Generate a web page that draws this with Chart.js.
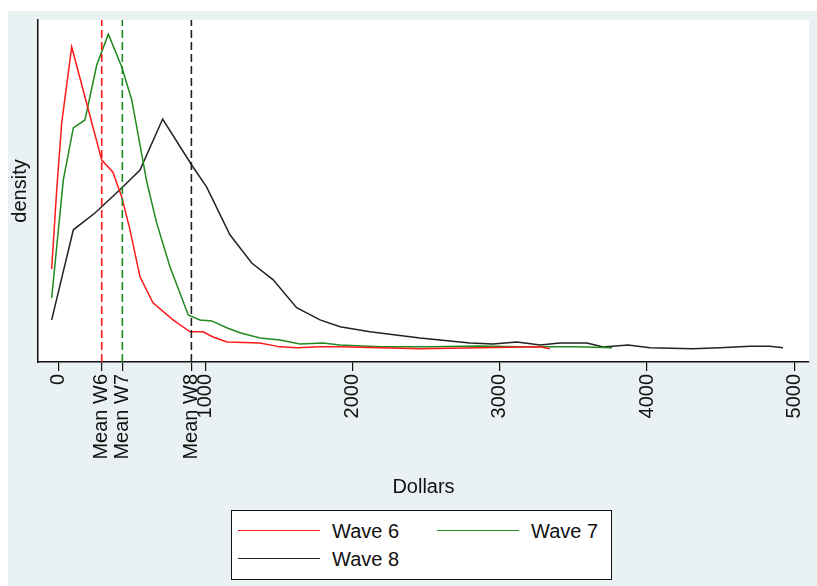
<!DOCTYPE html>
<html>
<head>
<meta charset="utf-8">
<script src="https://cdn.jsdelivr.net/npm/chart.js@4/dist/chart.umd.min.js"></script>
<style>
  body { margin: 0; background: #fff; }
  #wrap { position: relative; width: 817px; height: 586px; }
  #legend {
    position: absolute; left: 231px; top: 510px; width: 379px; height: 68px;
    border: 1.5px solid #111; background: #fff;
    font: 20px "Liberation Sans", Arial, sans-serif; color: #111;
  }
  .item { position: absolute; height: 24px; }
  .item span.line { position: absolute; left: 0; top: 11px; width: 82px; height: 0; border-top: 1.5px solid; }
  .item span.txt { position: absolute; left: 94px; top: 0; white-space: nowrap; line-height: 24px; }
</style>
</head>
<body>
<div id="wrap">
  <canvas id="chart" width="817" height="586"></canvas>
  <div id="legend"></div>
</div>
<script>
// kernel density curves (x = dollars, y = relative density)
const wave6X = [-45, -11, 23, 91, 295, 370, 431, 487, 555, 643, 779, 895, 983, 1051, 1146, 1370, 1506, 1622, 1778, 1914, 2185, 2457, 2865, 3273, 3340];
const wave6Y = [0.243, 0.483, 0.687, 0.918, 0.574, 0.538, 0.462, 0.362, 0.219, 0.140, 0.088, 0.052, 0.052, 0.036, 0.021, 0.018, 0.006, 0.003, 0.006, 0.006, 0.003, 0.000, 0.003, 0.006, 0.000];

const wave7X = [-45, 34, 102, 181, 261, 340, 431, 499, 601, 668, 759, 883, 962, 1042, 1144, 1234, 1370, 1506, 1642, 1798, 1914, 2185, 2525, 2865, 3137, 3524, 3762];
const wave7Y = [0.155, 0.514, 0.672, 0.696, 0.863, 0.957, 0.857, 0.757, 0.508, 0.383, 0.249, 0.103, 0.088, 0.085, 0.064, 0.049, 0.033, 0.027, 0.015, 0.018, 0.012, 0.006, 0.006, 0.009, 0.006, 0.006, 0.003];

const wave8X = [-45, 102, 249, 431, 555, 709, 906, 1008, 1166, 1314, 1460, 1619, 1778, 1914, 2117, 2457, 2797, 2953, 3116, 3273, 3409, 3592, 3701, 3870, 4020, 4312, 4495, 4699, 4835, 4923];
const wave8Y = [0.088, 0.362, 0.413, 0.489, 0.544, 0.699, 0.559, 0.492, 0.347, 0.261, 0.210, 0.125, 0.088, 0.067, 0.052, 0.033, 0.018, 0.015, 0.021, 0.012, 0.018, 0.018, 0.006, 0.012, 0.003, 0.000, 0.003, 0.008, 0.008, 0.003];

const seriesNames = ["Wave 6", "Wave 7", "Wave 8"];
const seriesColors = ["#ff1a1a", "#1f8a1f", "#222222"];

const meanValues = [295, 435, 904];
const meanLabels = ["Mean W6", "Mean W7", "Mean W8"];

const xTicks = [0, 1000, 2000, 3000, 4000, 5000];
const xMin = -138, xMax = 5100;
const yMin = -0.04, yMax = 1.0;

Chart.defaults.font.family = '"Liberation Sans", Arial, sans-serif';
Chart.defaults.font.size = 20;
Chart.defaults.color = "#111";

const toPoints = (xs, ys) => xs.map((x, i) => ({ x: x, y: ys[i] }));

const curveSets = [
  toPoints(wave6X, wave6Y),
  toPoints(wave7X, wave7Y),
  toPoints(wave8X, wave8Y)
].map((pts, i) => ({
  label: seriesNames[i],
  data: pts,
  borderColor: seriesColors[i],
  borderWidth: 1.5,
  pointRadius: 0,
  tension: 0,
  fill: false
}));

// dashed verticals at the means, spanning the whole y range
const meanSets = meanValues.map((m, i) => ({
  label: meanLabels[i],
  data: [{ x: m, y: yMin }, { x: m, y: yMax }],
  borderColor: seriesColors[i],
  borderWidth: 1.6,
  borderDash: [8, 4],
  pointRadius: 0,
  fill: false
}));

const bgPlugin = {
  id: "bg",
  beforeDraw(chart) {
    const { ctx, chartArea } = chart;
    ctx.save();
    ctx.fillStyle = "#fff";
    ctx.fillRect(0, 0, chart.width, chart.height);
    ctx.fillStyle = "#eaf1f3";
    ctx.fillRect(8, 11, chart.width - 8, chart.height - 11);
    ctx.fillStyle = "#fff";
    ctx.fillRect(chartArea.left, chartArea.top, chartArea.right - chartArea.left, chartArea.bottom - chartArea.top);
    ctx.restore();
  }
};

new Chart(document.getElementById("chart"), {
  type: "line",
  data: { datasets: [...meanSets, ...curveSets] },
  options: {
    responsive: false,
    animation: false,
    layout: { padding: { left: 0, top: 20, right: 8, bottom: 87 } },
    plugins: { legend: { display: false }, tooltip: { enabled: false } },
    scales: {
      x: {
        type: "linear",
        min: xMin,
        max: xMax,
        afterFit(scale) {
          scale.height = 137;
          scale.paddingLeft = 0;
          scale.paddingRight = 0;
        },
        afterBuildTicks(scale) {
          scale.ticks = [...xTicks, ...meanValues].sort((a, b) => a - b).map(v => ({ value: v }));
        },
        ticks: {
          autoSkip: false,
          minRotation: 90,
          maxRotation: 90,
          padding: 3,
          color: "#111",
          callback: v => {
            const k = meanValues.indexOf(v);
            return k >= 0 ? meanLabels[k] : String(v);
          }
        },
        grid: { drawOnChartArea: false, drawTicks: true, tickLength: 9, color: "#111", lineWidth: 1.2 },
        border: { display: true, color: "#111", width: 1.5 },
        title: { display: true, text: "Dollars", padding: { top: 0, bottom: 0 }, color: "#111" }
      },
      y: {
        min: yMin,
        max: yMax,
        afterFit(scale) { scale.width = 38; },
        ticks: { display: false },
        grid: { display: false },
        border: { display: true, color: "#111", width: 1.5 },
        title: { display: true, text: "density", padding: { top: 8, bottom: 0 }, color: "#111" }
      }
    }
  },
  plugins: [bgPlugin]
});

// boxed legend in two columns, like the original
const legend = document.getElementById("legend");
seriesNames.forEach((name, i) => {
  const item = document.createElement("div");
  item.className = "item";
  item.style.left = (6 + (i % 2) * 199) + "px";
  item.style.top = (8 + Math.floor(i / 2) * 28) + "px";
  item.innerHTML = `<span class="line" style="border-color:${seriesColors[i]}"></span><span class="txt">${name}</span>`;
  legend.appendChild(item);
});
</script>
</body>
</html>
